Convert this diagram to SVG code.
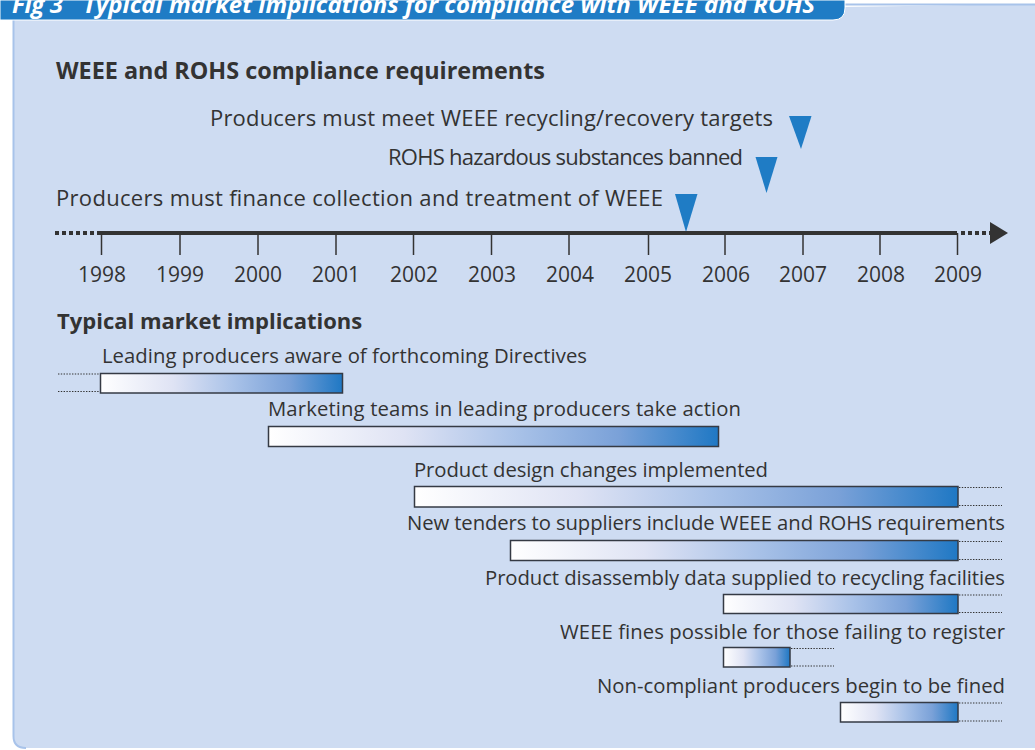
<svg xmlns="http://www.w3.org/2000/svg" width="1035" height="750" viewBox="0 0 1035 750">
  <defs>
    <linearGradient id="barFill" x1="0" y1="0" x2="1" y2="0">
      <stop offset="0" stop-color="#ffffff"/>
      <stop offset="0.3" stop-color="#dfe3f4"/>
      <stop offset="0.55" stop-color="#a9c2e8"/>
      <stop offset="0.78" stop-color="#7aa1d8"/>
      <stop offset="1" stop-color="#1f78c4"/>
    </linearGradient>
    <marker id="axisHead" viewBox="0 0 18 22" refX="0" refY="11" markerWidth="18" markerHeight="22" markerUnits="userSpaceOnUse" orient="auto">
      <path d="M0,0 L18,11 L0,22 Z" fill="#333333"/>
    </marker>
    <style>
      .txt { font-family: "Open Sans", "Noto Sans", sans-serif; font-size: 22px; fill: #333333; }
      .bartxt { font-family: "Open Sans", "Noto Sans", sans-serif; font-size: 20.3px; fill: #333333; }
      .head { font-family: "Open Sans", "Noto Sans", sans-serif; font-weight: bold; fill: #333333; }
      .year { font-family: "Open Sans", "Noto Sans", sans-serif; font-size: 21px; fill: #333333; text-anchor: middle; }
      .end { text-anchor: end; }
      .tick { stroke: #333333; stroke-width: 1.5; }
      .bar { fill: url(#barFill); stroke: #353a44; stroke-width: 1.5; }
      .dots { stroke: #333333; stroke-width: 1.2; stroke-dasharray: 1.4 1.4; fill: none; }
      .marker { fill: #1f7cc5; }
    </style>
  </defs>

  <!-- background panel -->
  <path d="M14,20 L1040,4 L1040,748 L26,748 Q14,748 14,736 Z" fill="#cedcf2"/>
  <path d="M840,4.5 L1040,4.5" stroke="#a8c3ea" stroke-width="2"/>
  <path d="M13.5,20 L13.5,736 Q13.5,748 26,748" fill="none" stroke="#a8c3ea" stroke-width="2"/>

  <!-- title bar -->
  <path d="M0,0 L845,0 L845,8 Q845,20 833,20 L0,20 Z" fill="#1f7cc5" stroke="#ffffff" stroke-width="1"/>
  <g font-family="'Open Sans', 'Noto Sans', sans-serif" font-size="24" font-weight="bold" font-style="italic" fill="#ffffff">
    <text x="12" y="13" textLength="51" lengthAdjust="spacing">Fig 3</text>
    <text x="83" y="13" textLength="732" lengthAdjust="spacing">Typical market implications for compliance with WEEE and ROHS</text>
  </g>

  <!-- compliance requirements -->
  <g id="requirements-heading">
    <text class="head" x="56" y="79" font-size="23.4" textLength="489" lengthAdjust="spacing">WEEE and ROHS compliance requirements</text>
  </g>
  <g id="req-recycling-targets">
    <text class="txt end" x="773" y="126" textLength="563" lengthAdjust="spacing">Producers must meet WEEE recycling/recovery targets</text>
    <path class="marker" d="M789,116 L811.5,116 L801,149 Z"/>
  </g>
  <g id="req-rohs-ban">
    <text class="txt end" x="743" y="165" textLength="355" lengthAdjust="spacing">ROHS hazardous substances banned</text>
    <path class="marker" d="M755.5,157 L777.5,157 L766.5,193 Z"/>
  </g>
  <g id="req-finance-collection">
    <text class="txt" x="56" y="206" textLength="607" lengthAdjust="spacing">Producers must finance collection and treatment of WEEE</text>
    <path class="marker" d="M675,194 L697.5,194 L686,232 Z"/>
  </g>

  <!-- timeline axis -->
  <g id="timeline">
    <line x1="55" y1="233" x2="100" y2="233" stroke="#333333" stroke-width="4" stroke-dasharray="4 3"/>
    <line x1="100" y1="233" x2="957" y2="233" stroke="#333333" stroke-width="4"/>
    <line x1="961" y1="233" x2="990" y2="233" stroke="#333333" stroke-width="4" stroke-dasharray="4 3" marker-end="url(#axisHead)"/>
    <line class="tick" x1="101.5" y1="233" x2="101.5" y2="255"/>
    <line class="tick" x1="180" y1="233" x2="180" y2="255"/>
    <line class="tick" x1="258" y1="233" x2="258" y2="255"/>
    <line class="tick" x1="336" y1="233" x2="336" y2="255"/>
    <line class="tick" x1="413.5" y1="233" x2="413.5" y2="255"/>
    <line class="tick" x1="491.5" y1="233" x2="491.5" y2="255"/>
    <line class="tick" x1="569" y1="233" x2="569" y2="255"/>
    <line class="tick" x1="648.5" y1="233" x2="648.5" y2="255"/>
    <line class="tick" x1="725" y1="233" x2="725" y2="255"/>
    <line class="tick" x1="803" y1="233" x2="803" y2="255"/>
    <line class="tick" x1="880" y1="233" x2="880" y2="255"/>
    <line class="tick" x1="957.5" y1="233" x2="957.5" y2="255"/>
    <text class="year" x="102" y="282">1998</text>
    <text class="year" x="180" y="282">1999</text>
    <text class="year" x="258" y="282">2000</text>
    <text class="year" x="336" y="282">2001</text>
    <text class="year" x="414" y="282">2002</text>
    <text class="year" x="492" y="282">2003</text>
    <text class="year" x="570" y="282">2004</text>
    <text class="year" x="648" y="282">2005</text>
    <text class="year" x="726" y="282">2006</text>
    <text class="year" x="803" y="282">2007</text>
    <text class="year" x="881" y="282">2008</text>
    <text class="year" x="958" y="282">2009</text>
  </g>

  <!-- market implications -->
  <g id="implications-heading">
    <text class="head" x="57" y="329" font-size="22">Typical market implications</text>
  </g>

  <g id="bar-aware">
    <text class="bartxt" x="102" y="363" textLength="485" lengthAdjust="spacing">Leading producers aware of forthcoming Directives</text>
    <path class="dots" d="M58,374 H100 M58,391.5 H100"/>
    <rect class="bar" x="100.5" y="373.5" width="242" height="19.5"/>
  </g>
  <g id="bar-marketing">
    <text class="bartxt" x="268" y="416" textLength="473" lengthAdjust="spacing">Marketing teams in leading producers take action</text>
    <rect class="bar" x="268.5" y="426.5" width="450" height="20"/>
  </g>
  <g id="bar-design">
    <text class="bartxt" x="414" y="477" textLength="354" lengthAdjust="spacing">Product design changes implemented</text>
    <rect class="bar" x="414.5" y="486.5" width="543.5" height="20.5"/>
    <path class="dots" d="M959,487.5 H1002 M959,505.5 H1002"/>
  </g>
  <g id="bar-tenders">
    <text class="bartxt end" x="1005" y="530" textLength="598" lengthAdjust="spacing">New tenders to suppliers include WEEE and ROHS requirements</text>
    <rect class="bar" x="510.5" y="540.5" width="447.5" height="20"/>
    <path class="dots" d="M959,541.5 H1002 M959,559.5 H1002"/>
  </g>
  <g id="bar-disassembly">
    <text class="bartxt end" x="1005" y="585" textLength="520" lengthAdjust="spacing">Product disassembly data supplied to recycling facilities</text>
    <rect class="bar" x="723.5" y="594.5" width="234.5" height="19"/>
    <path class="dots" d="M959,595 H1002 M959,612.5 H1002"/>
  </g>
  <g id="bar-registration-fines">
    <text class="bartxt end" x="1005" y="639" textLength="445" lengthAdjust="spacing">WEEE fines possible for those failing to register</text>
    <rect class="bar" x="723.5" y="647.5" width="66.5" height="19.5"/>
    <path class="dots" d="M791,648.5 H834 M791,666 H834"/>
  </g>
  <g id="bar-fined">
    <text class="bartxt end" x="1005" y="693" textLength="408" lengthAdjust="spacing">Non-compliant producers begin to be fined</text>
    <rect class="bar" x="840.5" y="702.5" width="117.5" height="19.5"/>
    <path class="dots" d="M959,703 H1002 M959,721 H1002"/>
  </g>
</svg>
